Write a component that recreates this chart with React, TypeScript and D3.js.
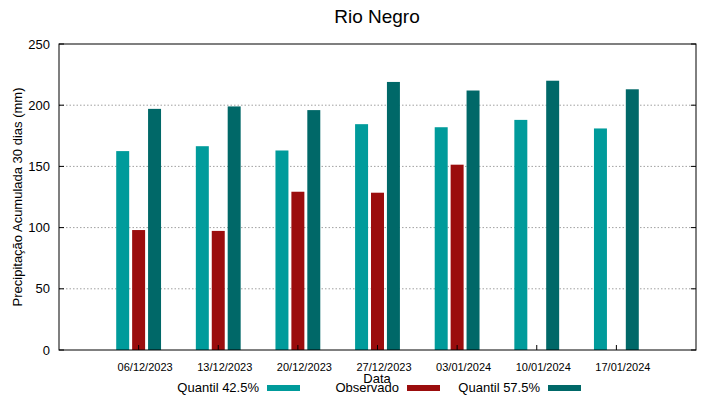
import React from "react";
import * as d3 from "d3";

const dates = ["06/12/2023", "13/12/2023", "20/12/2023", "27/12/2023", "03/01/2024", "10/01/2024", "17/01/2024"];
const q425 = [162.5, 166.5, 163, 184.5, 182, 188, 181];
const observed: (number | null)[] = [98, 97.3, 129.3, 128.5, 151.4, null, null];
const q575 = [197, 199, 196, 219, 212, 220, 213];
const yTicks = [0, 50, 100, 150, 200, 250];

const W = 719, H = 399;
const M = { left: 59, right: 696, top: 44, bottom: 350 };
const C1 = "#009b9b", C2 = "#9b0d0d", C3 = "#006868";
const FONT = "'Liberation Sans', Arial, sans-serif";

export default function App() {
  const x = d3.scaleLinear().domain([-1, 7]).range([M.left, M.right]);
  const y = d3.scaleLinear().domain([0, 250]).range([M.bottom, M.top]);
  const off = 0.2, bw = 0.163;
  const bw_px = x(bw) - x(0);
  const series = [
    { vals: q425 as (number | null)[], color: C1, o: -off, name: "Quantil 42.5%" },
    { vals: observed, color: C2, o: 0, name: "Observado" },
    { vals: q575 as (number | null)[], color: C3, o: off, name: "Quantil 57.5%" },
  ];
  const legendEnds = [259, 399, 540];
  return (
    <svg width={W} height={H} style={{ position: "absolute", left: 0, top: 0 }} fontFamily={FONT}>
      <rect width={W} height={H} fill="#fff" />
      <text x={377} y={23} textAnchor="middle" fontSize={19} fill="#000">Rio Negro</text>
      {yTicks.map((t) => (
        <g key={t}>
          {t > 0 && t < 250 && (
            <line x1={M.left} x2={M.right} y1={y(t)} y2={y(t)} stroke="#a0a0a0" strokeDasharray="1.5,2" strokeWidth={1} />
          )}
          <line x1={M.left} x2={M.left + 5} y1={y(t)} y2={y(t)} stroke="#000" />
          <line x1={M.right - 5} x2={M.right} y1={y(t)} y2={y(t)} stroke="#000" />
          <text x={50} y={y(t)} dy="0.35em" textAnchor="end" fontSize={13}>{t}</text>
        </g>
      ))}
      {series.map((s) =>
        s.vals.map((v, i) =>
          v == null ? null : (
            <rect key={s.name + i} x={x(i + s.o) - bw_px / 2} y={y(v)} width={bw_px} height={y(0) - y(v)} fill={s.color} />
          )
        )
      )}
      {dates.map((d, i) => (
        <g key={d}>
          <line x1={x(i)} x2={x(i)} y1={M.bottom} y2={M.bottom - 5} stroke="#000" />
          <text x={x(i) + 6.5} y={367} dy="0.35em" textAnchor="middle" fontSize={11}>{d}</text>
        </g>
      ))}
      <rect x={M.left} y={M.top} width={M.right - M.left} height={M.bottom - M.top} fill="none" stroke="#000" strokeWidth={1} />
      <text x={377} y={378} dy="0.35em" textAnchor="middle" fontSize={13}>Data</text>
      <text transform={`translate(17,${(M.top + M.bottom) / 2}) rotate(-90)`} dy="0.35em" textAnchor="middle" fontSize={13}>
        Precipitação Acumulada 30 dias (mm)
      </text>
      {series.map((s, i) => (
        <g key={s.name}>
          <text x={legendEnds[i]} y={387} dy="0.35em" textAnchor="end" fontSize={13}>{s.name}</text>
          <rect x={legendEnds[i] + 8} y={385} width={33} height={6} fill={s.color} />
        </g>
      ))}
    </svg>
  );
}
